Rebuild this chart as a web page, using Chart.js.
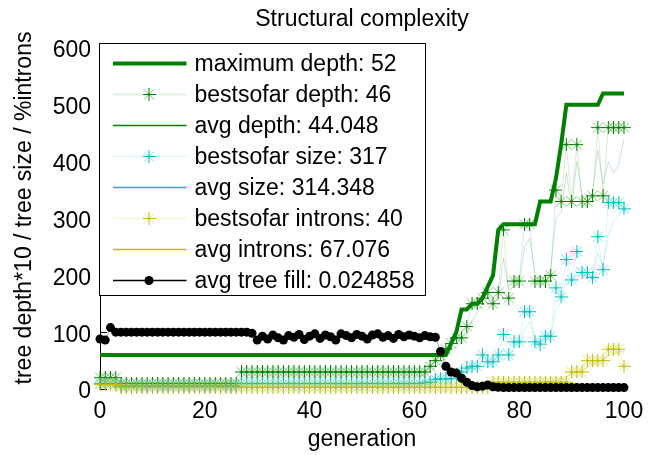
<!DOCTYPE html>
<html>
<head>
<meta charset="utf-8">
<title>Structural complexity</title>
<script src="https://cdn.jsdelivr.net/npm/chart.js@4/dist/chart.umd.min.js"></script>
<style>
  html, body { margin: 0; padding: 0; background: #fff; }
</style>
</head>
<body>
<canvas id="complexityChart" width="658" height="455"></canvas>
<script>
// generation index (x axis)
const generations = Array.from({ length: 101 }, (_, g) => g);

// tree depths (plotted *10)
const maxDepth = [
  6, 6, 6, 6, 6, 6, 6, 6, 6, 6,
  6, 6, 6, 6, 6, 6, 6, 6, 6, 6,
  6, 6, 6, 6, 6, 6, 6, 6, 6, 6,
  6, 6, 6, 6, 6, 6, 6, 6, 6, 6,
  6, 6, 6, 6, 6, 6, 6, 6, 6, 6,
  6, 6, 6, 6, 6, 6, 6, 6, 6, 6,
  6, 6, 6, 6, 6, 6, 6, 8, 10, 14,
  14, 15, 15, 16, 18, 20, 28, 29, 29, 29,
  29, 29, 29, 29, 33, 33, 33, 37, 43, 50,
  50, 50, 50, 50, 50, 50, 52, 52, 52, 52,
  52
];
const bestDepth = [
  2, 2, 2, 2, 1, 1, 1, 1, 1, 1,
  1, 1, 1, 1, 1, 1, 1, 1, 1, 1,
  1, 1, 1, 1, 1, 1, 1, 3, 3, 3,
  3, 3, 3, 3, 3, 3, 3, 3, 3, 3,
  3, 3, 3, 3, 3, 3, 3, 3, 3, 3,
  3, 3, 3, 3, 3, 3, 3, 3, 3, 3,
  3, 3, 3, 4, 5, 6, 7, 8, 9, 9,
  11, 15, 15, 16, 17, 15, 17, 28, 16, 19,
  19, 29, 29, 19, 19, 19, 20, 35, 33, 43,
  33, 43, 33, 33, 34, 46, 34, 46, 46, 46,
  46
];
const avgDepth = [
  1.7, 1.7, 1.7, 1.7, 0.9, 0.9, 0.9, 0.9, 0.9, 0.9,
  0.9, 0.9, 0.9, 0.9, 0.9, 0.9, 0.9, 0.9, 0.9, 0.9,
  0.9, 0.9, 0.9, 0.9, 0.9, 0.9, 0.9, 2.0, 2.0, 2.0,
  2.0, 2.1, 2.0, 2.1, 2.0, 2.0, 2.1, 2.0, 2.0, 2.1,
  2.0, 2.0, 2.1, 2.0, 2.1, 2.0, 2.0, 2.0, 2.1, 2.0,
  2.1, 2.0, 2.0, 2.1, 2.0, 2.0, 2.1, 2.0, 2.0, 2.1,
  2.0, 2.2, 2.5, 3.0, 3.8, 4.5, 5.5, 6.5, 7.5, 8.2,
  9.5, 12.0, 13.5, 14.5, 15.5, 15.0, 16.0, 23.0, 17.5, 18.0,
  18.5, 25.0, 26.5, 20.5, 19.5, 20.0, 21.0, 30.0, 31.0, 38.0,
  32.0, 40.0, 34.0, 33.0, 34.5, 42.0, 36.0, 40.0, 38.0, 39.5,
  44.048
];

// tree sizes
const bestSize = [
  10, 10, 10, 10, 5, 5, 5, 5, 5, 5,
  5, 5, 5, 5, 5, 5, 5, 5, 5, 5,
  5, 5, 5, 5, 5, 5, 5, 10, 10, 10,
  10, 10, 10, 10, 10, 10, 10, 10, 10, 10,
  10, 10, 10, 10, 10, 10, 10, 10, 10, 10,
  10, 10, 10, 10, 10, 10, 10, 10, 10, 10,
  10, 10, 12, 12, 17, 18, 18, 18, 25, 30,
  37, 40, 40, 60, 48, 48, 60, 96, 60, 83,
  83, 136, 136, 83, 79, 93, 93, 178, 162, 228,
  192, 242, 205, 205, 196, 268, 210, 328, 328, 328,
  317
];
const avgSize = [
  8, 8, 8, 8, 5, 5, 5, 5, 5, 5,
  5, 5, 5, 5, 5, 5, 5, 5, 5, 5,
  5, 5, 5, 5, 5, 5, 5, 8, 8, 8,
  8, 8, 8, 8, 8, 8, 8, 8, 8, 8,
  8, 8, 8, 8, 8, 8, 8, 8, 8, 8,
  8, 8, 8, 8, 8, 8, 8, 8, 8, 8,
  8, 9, 10, 11, 13, 15, 16, 17, 20, 24,
  29, 34, 37, 45, 44, 45, 52, 72, 60, 70,
  76, 105, 118, 90, 82, 88, 92, 140, 150, 195,
  180, 215, 200, 200, 195, 240, 215, 270, 295, 305,
  314.348
];

// introns in percent
const bestIntrons = [
  8, 8, 8, 8, 3, 3, 3, 3, 3, 3,
  3, 3, 3, 3, 3, 3, 3, 3, 3, 3,
  3, 3, 3, 3, 3, 3, 3, 3, 3, 3,
  3, 3, 3, 3, 3, 3, 3, 3, 3, 3,
  3, 3, 3, 3, 3, 3, 3, 3, 3, 3,
  3, 3, 3, 3, 3, 3, 3, 3, 3, 3,
  3, 3, 3, 3, 3, 3, 3, 3, 3, 3,
  3, 3, 3, 3, 3, 12, 12, 12, 12, 12,
  12, 12, 12, 12, 12, 12, 12, 12, 12, 12,
  30, 30, 30, 50, 50, 50, 50, 70, 70, 70,
  40
];
const avgIntrons = [
  6, 6, 6, 6, 3, 3, 3, 3, 3, 3,
  3, 3, 3, 3, 3, 3, 3, 3, 3, 3,
  3, 3, 3, 3, 3, 3, 3, 3, 3, 3,
  3, 3, 3, 3, 3, 3, 3, 3, 3, 3,
  3, 3, 3, 3, 3, 3, 3, 3, 3, 3,
  3, 3, 3, 3, 3, 3, 3, 3, 3, 3,
  3, 3, 3, 3, 3, 3, 3, 3, 3, 3,
  3, 3, 3, 3, 3, 3, 4, 5, 5, 6,
  7, 8, 9, 10, 11, 12, 14, 16, 18, 22,
  26, 30, 33, 38, 44, 48, 52, 58, 62, 65,
  67.076
];

// average tree fill (fraction, plotted *100)
const treeFill = [
  0.88, 0.86, 1.08, 1.00, 1.00, 1.00, 1.00, 1.00, 1.00, 1.00,
  1.00, 1.00, 1.00, 1.00, 1.00, 1.00, 1.00, 1.00, 1.00, 1.00,
  1.00, 1.00, 1.00, 1.00, 1.00, 1.00, 1.00, 1.00, 1.00, 0.98,
  0.86, 0.93, 0.88, 0.95, 0.90, 0.86, 0.94, 0.91, 0.96, 0.87,
  0.93, 0.97, 0.89, 0.95, 0.92, 0.86, 0.97, 0.94, 0.90, 0.96,
  0.93, 0.88, 0.95, 0.97, 0.91, 0.94, 0.89, 0.96, 0.92, 0.95,
  0.93, 0.90, 0.94, 0.92, 0.91, 0.66, 0.40, 0.30, 0.28, 0.19,
  0.12, 0.06, 0.04, 0.05, 0.07, 0.04, 0.03, 0.025, 0.025, 0.025,
  0.025, 0.025, 0.025, 0.025, 0.025, 0.025, 0.025, 0.025, 0.025, 0.025,
  0.025, 0.025, 0.025, 0.025, 0.025, 0.025, 0.025, 0.025, 0.025, 0.025,
  0.024858
];

const FONT = '"Liberation Sans", Arial, Helvetica, sans-serif';
const green = '#008000';
const cyan = '#00bfbf';
const yellow = '#bfbf00';

// gnuplot style asterisk: dark "+" over a pale "x"
function makeStar(color, pale) {
  const c = document.createElement('canvas');
  c.width = 13;
  c.height = 13;
  const g = c.getContext('2d');
  g.lineWidth = 1;
  g.strokeStyle = pale;
  g.beginPath();
  g.moveTo(1.5, 1.5); g.lineTo(11.5, 11.5);
  g.moveTo(11.5, 1.5); g.lineTo(1.5, 11.5);
  g.stroke();
  g.strokeStyle = color;
  g.beginPath();
  g.moveTo(0, 6.5); g.lineTo(13, 6.5);
  g.moveTo(6.5, 0); g.lineTo(6.5, 13);
  g.stroke();
  return c;
}

const starGreen = makeStar(green, 'rgba(0,128,0,0.5)');
const starCyan = makeStar(cyan, 'rgba(0,191,191,0.5)');
const starYellow = makeStar(yellow, 'rgba(191,191,0,0.5)');

const last = arr => arr[arr.length - 1];
const toPoints = (values, factor) => values.map((v, i) => ({ x: generations[i], y: v * factor }));

// one entry per plotted curve, in key order
const series = [
  { label: 'maximum depth', values: maxDepth, factor: 10, line: green, width: 4, keyLine: green, order: 7 },
  { label: 'bestsofar depth', values: bestDepth, factor: 10, line: 'rgba(0,128,0,0.15)', width: 1, star: starGreen, keyLine: 'rgba(0,128,0,0.14)', order: 5 },
  { label: 'avg depth', values: avgDepth, factor: 10, line: 'rgba(0,128,0,0.2)', width: 1, keyLine: green, order: 6 },
  { label: 'bestsofar size', values: bestSize, factor: 1, line: 'rgba(0,191,191,0.15)', width: 1, star: starCyan, keyLine: 'rgba(0,191,191,0.14)', order: 3 },
  { label: 'avg size', values: avgSize, factor: 1, line: 'rgba(0,191,191,0.2)', width: 1, keyLine: cyan, order: 4 },
  { label: 'bestsofar introns', values: bestIntrons, factor: 1, line: 'rgba(191,191,0,0.18)', width: 1, star: starYellow, keyLine: 'rgba(191,191,0,0.14)', order: 1 },
  { label: 'avg introns', values: avgIntrons, factor: 1, line: 'rgba(191,191,0,0.35)', width: 1, keyLine: yellow, order: 2 },
  { label: 'avg tree fill', values: treeFill, factor: 100, line: 'rgba(0,0,0,0.35)', width: 1, dot: true, keyLine: '#000', order: 0 }
];

const datasets = series.map(s => ({
  label: s.label + ': ' + last(s.values),
  data: toPoints(s.values, s.factor),
  borderColor: s.line,
  borderWidth: s.width,
  backgroundColor: s.dot ? '#000' : s.line,
  pointStyle: s.star ? s.star : 'circle',
  pointRadius: s.star ? 6 : (s.dot ? 4.5 : 0),
  pointBorderWidth: 0,
  pointBackgroundColor: s.dot ? '#000' : s.line,
  tension: 0,
  clip: false,
  order: s.order
}));

// key box in the upper left of the plot
const boxKey = {
  id: 'boxKey',
  beforeDatasetsDraw(chart) {
    // inward tick marks on the y axis
    const { ctx, chartArea } = chart;
    const y = chart.scales.y;
    ctx.save();
    ctx.strokeStyle = '#000';
    ctx.lineWidth = 1;
    y.ticks.forEach(t => {
      const py = Math.round(y.getPixelForValue(t.value)) + 0.5;
      ctx.beginPath();
      ctx.moveTo(chartArea.left, py);
      ctx.lineTo(chartArea.left + 7, py);
      ctx.stroke();
    });
    ctx.restore();
  },
  afterDatasetsDraw(chart) {
    const { ctx, chartArea } = chart;
    const left = chartArea.left - 0.5;
    const top = chartArea.top - 4.5;
    const rowH = 31;
    const w = 326, h = 252;
    ctx.save();
    ctx.fillStyle = '#fff';
    ctx.fillRect(left, top, w, h);
    ctx.strokeStyle = '#000';
    ctx.lineWidth = 1;
    ctx.strokeRect(left, top, w, h);
    ctx.font = '23px ' + FONT;
    ctx.textBaseline = 'middle';
    ctx.textAlign = 'left';
    series.forEach((s, i) => {
      const cy = top + 20 + i * rowH;
      ctx.strokeStyle = s.keyLine;
      ctx.lineWidth = s.width === 4 ? 4 : 1.4;
      ctx.beginPath();
      ctx.moveTo(left + 13.5, cy);
      ctx.lineTo(left + 87, cy);
      ctx.stroke();
      if (s.star) ctx.drawImage(s.star, left + 43, cy - 6.5);
      if (s.dot) {
        ctx.fillStyle = '#000';
        ctx.beginPath();
        ctx.arc(left + 49.5, cy, 4.5, 0, Math.PI * 2);
        ctx.fill();
      }
      ctx.fillStyle = '#000';
      ctx.fillText(datasets[i].label, left + 95, cy + 1);
    });
    ctx.restore();
  },
  afterDraw(chart) {
    const { ctx, chartArea } = chart;
    ctx.save();
    ctx.fillStyle = '#000';
    ctx.font = '23px ' + FONT;
    ctx.textAlign = 'center';
    ctx.textBaseline = 'middle';
    ctx.fillText('Structural complexity', (chartArea.left + chartArea.right) / 2, 20);
    ctx.translate(25, 208);
    ctx.rotate(-Math.PI / 2);
    ctx.fillText('tree depth*10 / tree size / %introns', 0, 0);
    ctx.restore();
  }
};

const tickFont = { family: FONT, size: 23 };

new Chart(document.getElementById('complexityChart'), {
  type: 'line',
  data: { datasets },
  options: {
    responsive: false,
    animation: false,
    devicePixelRatio: 1,
    layout: { padding: { top: 48, right: 34, left: 0, bottom: 0 } },
    plugins: {
      legend: { display: false },
      title: { display: false },
      tooltip: { enabled: false }
    },
    scales: {
      x: {
        type: 'linear',
        min: 0,
        max: 100,
        afterFit: s => { s.height = 66; },
        grid: { display: false, drawTicks: false },
        border: { display: false },
        ticks: { stepSize: 20, padding: 9, color: '#000', font: tickFont, maxRotation: 0 },
        title: { display: true, text: 'generation', color: '#000', font: tickFont, padding: { top: 0, bottom: 2 } }
      },
      y: {
        min: 0,
        max: 600,
        afterFit: s => { s.width = 100; },
        grid: { display: false, drawTicks: false },
        border: { display: true, color: '#000', width: 1 },
        ticks: { stepSize: 100, padding: 9, labelOffset: 3, color: '#000', font: tickFont }
      }
    }
  },
  plugins: [boxKey]
});
</script>
</body>
</html>
